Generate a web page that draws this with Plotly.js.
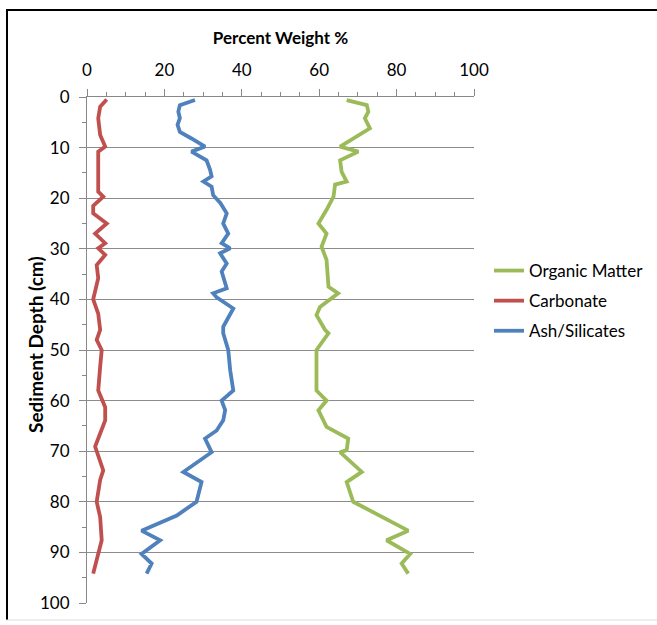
<!DOCTYPE html>
<html>
<head>
<meta charset="utf-8">
<script src="https://cdn.plot.ly/plotly-3.0.1.min.js"></script>
<style>
html,body{margin:0;padding:0;background:#fff;}
#chart{width:657px;height:625px;}
</style>
</head>
<body>
<div id="chart"></div>
<script>
// Organic Matter
const omDepth = [0.6,1.6,2.9,4.2,6.2,7.8,9.8,10.8,12.5,14.8,16.7,17.3,19.7,22.3,25,27,29.6,32.2,37.5,38.8,41.5,43.1,46,46.7,50,58,60,61.9,65.2,67.5,69.8,70.2,74.1,76.1,80,85.7,87.6,90.3,92.2,94.2];
const omValue = [67.1,72.3,72.7,71.8,73.1,69.7,65.4,70.1,65.4,65.8,67.1,64.1,63.7,61.9,59.8,61.9,60.6,61.9,62.4,64.9,60.2,59.3,61.5,62.4,59.3,59.3,61.9,59.8,61.9,67.5,67.1,65.4,71.0,67.1,68.8,83.0,77.4,83.5,81.3,83.0];
// Carbonate
const caDepth = [0.5,1.9,4.2,7.5,9.8,10.8,18.7,19.7,21.5,23,25,27,28.9,29.9,31.2,33.2,35.8,38.8,40,42.8,46,48,50,53.3,58,61.3,63.9,66.5,69.1,73.8,75.7,80,83,87.6,90.2,94.2];
const caValue = [5.1,3.4,2.9,3.4,4.7,2.9,2.9,4.2,1.6,1.6,5.1,2.1,4.7,2.9,4.7,2.5,2.9,2.1,1.6,2.9,3.4,2.5,3.8,3.4,2.9,4.7,4.7,3.4,2.1,4.2,3.4,2.5,3.4,3.8,2.9,1.6];
// Ash/Silicates
const asDepth = [0.6,1.6,2.9,4.2,5.5,6.9,8.2,9.8,10.8,12.5,14.4,15.7,16.7,17.7,19.4,21,23,25,27,28.9,29.9,30.9,32.9,34.5,37.8,38.8,39.6,41.8,45.4,46.7,50,54,58,60,61.9,63.9,65.9,67.5,70.2,74.1,76.1,80,82.7,85.7,87.6,90.3,92.2,94.2];
const asValue = [27.9,24.0,23.6,24.0,23.4,24.0,27.0,30.5,27.0,30.9,31.8,32.2,30.1,32.2,32.6,34.5,36.1,35.2,36.5,34.8,37.0,34.4,36.1,34.8,36.1,32.6,33.5,37.8,35.2,35.2,36.5,37.0,37.8,34.8,35.7,35.2,33.5,30.5,32.2,24.9,29.6,28.3,23.2,14.1,18.9,14.1,16.7,15.4];

const names = ['Organic Matter','Carbonate','Ash/Silicates'];
const colors = ['#9BBB59','#C0504D','#4F81BD'];
const xs = [omValue, caValue, asValue];
const ys = [omDepth, caDepth, asDepth];
const yTitle = 'Sediment Depth (cm)';
const xTitle = 'Percent Weight %';

const traces = names.map((n,i)=>({
  type:'scatter', mode:'lines', name:n, legendgroup:'g'+i,
  x: xs[i], y: ys[i],
  line:{color:colors[i], width:3.8}
}));

const FONT = 'Lato, "Open Sans", sans-serif';
const W = 657, H = 625;
const L = 87, R = 183, T = 97, B = 22;
const pw = W-L-R, ph = H-T-B;
const px = v => (v - L)/pw;
const py = v => (H - B - v)/ph;

const layout = {
  width:W, height:H,
  margin:{l:L, r:R, t:T, b:B, pad:0, autoexpand:false},
  paper_bgcolor:'#fff', plot_bgcolor:'#fff',
  font:{family:FONT, color:'#000', size:16},
  showlegend:true,
  legend:{x:px(489), y:py(253), xanchor:'left', yanchor:'top',
    font:{family:FONT, size:17, color:'#000'}, tracegroupgap:5, traceorder:'grouped',
    bgcolor:'rgba(0,0,0,0)', itemwidth:30},
  xaxis:{
    side:'top', range:[0,100], dtick:20, tick0:0,
    showgrid:false, zeroline:false,
    showline:true, linecolor:'#888', linewidth:1,
    ticks:'outside', ticklen:7, tickcolor:'#888', tickwidth:1,
    minor:{dtick:5, ticks:'outside', ticklen:4, tickcolor:'#888', showgrid:false},
    tickfont:{family:FONT, size:17, color:'#000'},
    ticklabelstandoff:6,
    title:{text:'<b>'+xTitle+'</b>', font:{family:FONT, size:17, color:'#000'}, standoff:10}
  },
  yaxis:{
    range:[100,0], dtick:10, tick0:0,
    showgrid:true, gridcolor:'#8c8c8c', gridwidth:1,
    zeroline:false,
    showline:true, linecolor:'#888', linewidth:1,
    ticks:'outside', ticklen:7, tickcolor:'#888', tickwidth:1,
    minor:{dtick:5, ticks:'outside', ticklen:4, tickcolor:'#888', showgrid:false},
    tickfont:{family:FONT, size:17, color:'#000'},
    ticklabelstandoff:6
  },
  annotations:[
    {text:'<b>'+yTitle+'</b>', xref:'paper', yref:'paper', x:px(35), y:py(345),
     xanchor:'center', yanchor:'middle', textangle:-90, showarrow:false,
     font:{family:FONT, size:19, color:'#000'}}
  ],
  shapes:[
    {type:'line', xref:'paper', yref:'paper', x0:px(7), x1:px(7), y0:py(10), y1:py(620), line:{color:'#000', width:2}},
    {type:'line', xref:'paper', yref:'paper', x0:px(6), x1:px(657), y0:py(10), y1:py(10), line:{color:'#000', width:2}},
    {type:'line', xref:'paper', yref:'paper', x0:px(6), x1:px(657), y0:py(620), y1:py(620), line:{color:'#ddd', width:1}}
  ]
};

Plotly.newPlot('chart', traces, layout, {displayModeBar:false, staticPlot:true});
</script>
</body>
</html>
